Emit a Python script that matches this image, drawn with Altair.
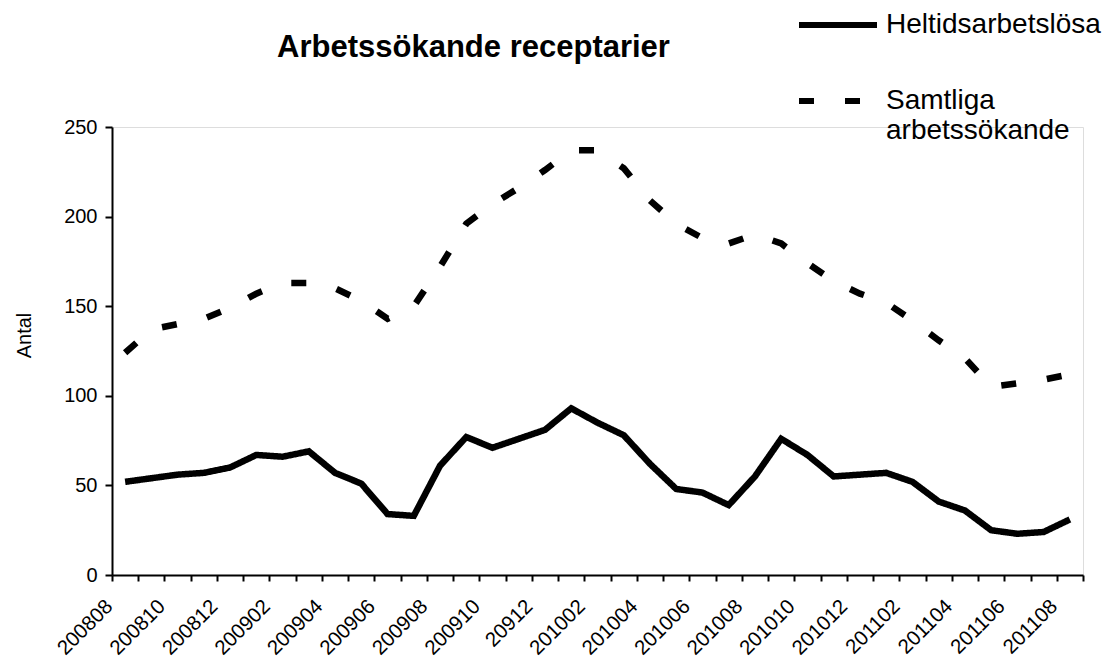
import json
import altair as alt
import pandas as pd

# ---- data ----
months = [
    "200808", "200809", "200810", "200811", "200812",
    "200901", "200902", "200903", "200904", "200905", "200906",
    "200907", "200908", "200909", "200910", "200911", "200912",
    "201001", "201002", "201003", "201004", "201005", "201006",
    "201007", "201008", "201009", "201010", "201011", "201012",
    "201101", "201102", "201103", "201104", "201105", "201106",
    "201107", "201108",
]
heltid = [52, 54, 56, 57, 60, 67, 66, 69, 57, 51, 34, 33, 61, 77, 71, 76, 81, 93, 85,
          78, 62, 48, 46, 39, 55, 76, 67, 55, 56, 57, 52, 41, 36, 25, 23, 24, 31]
samtliga = [124, 137, 140, 143, 149, 157, 163, 163, 160, 153, 143, 150, 172, 196, 207,
            216, 226, 237, 237, 227, 209, 196, 188, 185, 190, 185, 174, 164, 157, 152,
            142, 131, 121, 105, 107, 109, 112]
tick_labels = ["200808", "200810", "200812", "200902", "200904", "200906", "200908",
               "200910", "20912", "201002", "201004", "201006", "201008", "201010",
               "201012", "201102", "201104", "201106", "201108"]
series = ["Heltidsarbetslösa", "Samtliga arbetssökande"]
y_ticks = [0, 50, 100, 150, 200, 250]

rows = []
for m, v in zip(months, heltid):
    rows.append({"month": m, "series": series[0], "value": v})
for m, v in zip(months, samtliga):
    rows.append({"month": m, "series": series[1], "value": v})
df = pd.DataFrame(rows)

label_map = {m: t for m, t in zip(months[0::2], tick_labels)}
label_expr = "(" + json.dumps(label_map) + ")[datum.value] || ''"

FONT = "Liberation Sans"

chart = (
    alt.Chart(df)
    .mark_line(strokeWidth=6.5, color="black", strokeCap="butt", strokeJoin="miter")
    .encode(
        x=alt.X(
            "month:O",
            sort=months,
            bandPosition=0.5,
            scale=alt.Scale(type="band", paddingInner=0, paddingOuter=0),
            axis=alt.Axis(
                title=None,
                labelExpr=label_expr,
                labelAngle=315,
                labelAlign="right",
                labelBaseline="middle",
                labelOffset=-16,
                labelPadding=22,
                labelFont=FONT,
                labelFontSize=20.5,
                labelColor="black",
                labelOverlap=False,
                tickBand="extent",
                tickSize=6,
                tickWidth=2,
                tickColor="black",
                domainColor="black",
                domainWidth=2,
                grid=False,
            ),
        ),
        y=alt.Y(
            "value:Q",
            scale=alt.Scale(domain=[0, 250], nice=False),
            axis=alt.Axis(
                values=y_ticks,
                title="Antal",
                titleFont=FONT,
                titleFontSize=20,
                titleFontWeight="normal",
                titleColor="black",
                titleAngle=270,
                titleX=-88,
                titleY=208,
                titleAlign="center",
                titleBaseline="middle",
                labelFont=FONT,
                labelFontSize=20,
                labelColor="black",
                labelPadding=8,
                tickSize=7,
                tickWidth=2,
                tickColor="black",
                domainColor="black",
                domainWidth=2,
                grid=False,
            ),
        ),
        strokeDash=alt.StrokeDash(
            "series:N",
            scale=alt.Scale(domain=series, range=[[1, 0], [15, 31]]),
            legend=alt.Legend(
                title=None,
                orient="none",
                legendX=684,
                legendY=-144,
                symbolType="stroke",
                symbolSize=6084,
                symbolStrokeWidth=6,
                symbolStrokeColor="black",
                labelFont=FONT,
                labelFontSize=28,
                labelColor="black",
                labelOffset=6,
                labelLimit=0,
                rowPadding=20,
                labelExpr="datum.label == 'Samtliga arbetssökande' ? ['Samtliga', 'arbetssökande'] : datum.label",
            ),
        ),
    )
    .properties(
        width=971,
        height=448,
        autosize=alt.AutoSizeParams(type="none"),
        padding={"left": 104, "top": 119, "right": 25, "bottom": 85},
        title=alt.TitleParams(
            "Arbetssökande receptarier",
            font=FONT,
            fontSize=31,
            fontWeight="bold",
            color="black",
            anchor="middle",
            frame="group",
            baseline="alphabetic",
            offset=0,
            dy=105,
            dx=-124,
        ),
    )
    .configure_view(stroke=None)
    .configure(background="white")
)

chart.save("out.html", embed_options={"renderer": "svg", "actions": False})
